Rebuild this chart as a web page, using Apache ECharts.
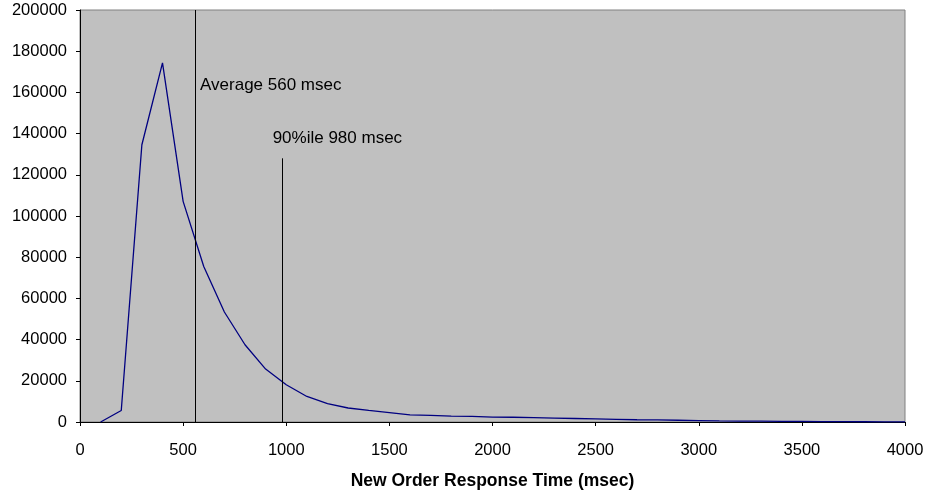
<!DOCTYPE html>
<html>
<head>
<meta charset="utf-8">
<script src="https://cdn.jsdelivr.net/npm/echarts@6/dist/echarts.min.js"></script>
<style>
  html, body { margin: 0; padding: 0; background: #ffffff; }
  #chart { width: 927px; height: 497px; }
</style>
</head>
<body>
<div id="chart"></div>
<script>
// Response time buckets (msec) and transaction counts per bucket
const responseTimes = [100, 200, 300, 400, 500, 600, 700, 800, 900, 1000,
  1100, 1200, 1300, 1400, 1500, 1600, 1700, 1800, 1900, 2000,
  2100, 2200, 2300, 2400, 2500, 2600, 2700, 2800, 2900, 3000,
  3100, 3200, 3300, 3400, 3500, 3600, 3700, 3800, 3900, 4000];
const counts = [0, 5600, 134600, 174300, 107100, 75500, 53400, 37500, 25700, 18100,
  12400, 8900, 6800, 5600, 4600, 3500, 3200, 2900, 2700, 2400,
  2300, 2100, 1900, 1700, 1500, 1300, 1100, 1000, 850, 700,
  550, 450, 380, 320, 260, 200, 160, 120, 90, 60];

// Reference markers
const averageMsec = 560;
const percentile90Msec = 980;
const percentile90LineTop = 128000;
const averageLabel = 'Average 560 msec';
const percentile90Label = '90%ile 980 msec';
const averageLabelAt = [582, 163300];
const percentile90LabelAt = [934, 137500];

const xAxisTitle = 'New Order Response Time (msec)';
const xRange = [0, 4000, 500];
const yRange = [0, 200000, 20000];

const font = 'Liberation Sans, Arial, Helvetica, sans-serif';
const chart = echarts.init(document.getElementById('chart'));

const seriesData = responseTimes.map((t, i) => [t, counts[i]]);
const plain = v => String(v);

chart.setOption({
  animation: false,
  textStyle: { fontFamily: font },
  grid: {
    left: 80, right: 22, top: 10, bottom: 75,
    show: true, backgroundColor: '#c0c0c0', borderColor: '#808080', borderWidth: 1
  },
  xAxis: {
    type: 'value',
    min: xRange[0], max: xRange[1], interval: xRange[2],
    name: xAxisTitle,
    nameLocation: 'middle',
    nameGap: 50,
    nameTextStyle: { fontFamily: font, fontSize: 17.5, fontWeight: 'bold', color: '#000' },
    axisLine: { show: true, lineStyle: { color: '#000', width: 1 } },
    axisTick: { show: true, inside: false, length: 4, lineStyle: { color: '#000' } },
    axisLabel: { margin: 20, fontFamily: font, fontSize: 16.5, color: '#000', formatter: plain },
    splitLine: { show: false }
  },
  yAxis: {
    type: 'value',
    min: yRange[0], max: yRange[1], interval: yRange[2],
    axisLine: { show: true, lineStyle: { color: '#000', width: 1 } },
    axisTick: { show: true, inside: false, length: 4, lineStyle: { color: '#000' } },
    axisLabel: { margin: 13, fontFamily: font, fontSize: 16.5, color: '#000', formatter: plain },
    splitLine: { show: false }
  },
  series: [
    {
      type: 'line',
      data: seriesData,
      showSymbol: false,
      symbol: 'none',
      lineStyle: { color: '#000080', width: 1.3 },
      markLine: {
        silent: true,
        symbol: ['none', 'none'],
        label: { show: false },
        lineStyle: { color: '#000', width: 1, type: 'solid' },
        data: [
          [{ coord: [averageMsec, yRange[1]] }, { coord: [averageMsec, 0] }],
          [{ coord: [percentile90Msec, percentile90LineTop] }, { coord: [percentile90Msec, 0] }]
        ]
      },
      markPoint: {
        silent: true,
        symbol: 'circle',
        symbolSize: 0,
        label: {
          show: true,
          position: 'inside',
          align: 'left',
          verticalAlign: 'middle',
          fontFamily: font,
          fontSize: 17,
          color: '#000'
        },
        data: [
          { coord: averageLabelAt, value: averageLabel, label: { formatter: averageLabel } },
          { coord: percentile90LabelAt, value: percentile90Label, label: { formatter: percentile90Label } }
        ]
      }
    }
  ]
});
</script>
</body>
</html>
